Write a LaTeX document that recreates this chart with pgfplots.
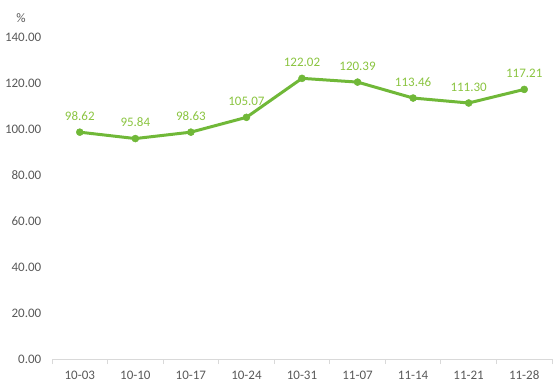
\documentclass[border=0pt]{standalone}
\usepackage{pgfplots}
\pgfplotsset{compat=1.18}
\usepackage{fontspec}
\setmainfont{Carlito}
\definecolor{linegreen}{RGB}{112,184,56}
\definecolor{labgreen}{RGB}{138,196,64}
\definecolor{tickgray}{RGB}{89,89,89}
\definecolor{axgray}{RGB}{217,217,217}
\begin{document}
\begin{tikzpicture}
\useasboundingbox (-52bp,-32bp) rectangle (502bp,359bp);
\begin{axis}[
  at={(0,0)}, anchor=south west,
  scale only axis, width=500bp, height=322bp,
  xmin=-0.5, xmax=8.5, ymin=0, ymax=140,
  axis x line*=bottom, axis y line*=left,
  y axis line style={draw=none},
  x axis line style={draw=axgray, line width=1bp},
  xtick={0,...,8},
  xticklabels={10-03,10-10,10-17,10-24,10-31,11-07,11-14,11-21,11-28},
  minor xtick={-0.5,0.5,...,8.5},
  major x tick style={draw=none},
  minor x tick style={draw=axgray, line width=1bp},
  minor tick length=5bp,
  tick align=outside,
  ytick={0,20,...,140},
  ytick style={draw=none},
  /pgf/number format/fixed,
  /pgf/number format/fixed zerofill,
  /pgf/number format/precision=2,
  /pgf/number format/assume math mode=true,
  tick label style={font=\fontsize{13bp}{15bp}\selectfont, text=tickgray},
  xticklabel style={yshift=-4bp, text height=9bp, text depth=0bp},
  yticklabel style={xshift=-3bp},
  nodes near coords,
  point meta=explicit symbolic,
  every node near coord/.append style={font=\fontsize{13bp}{15bp}\selectfont, text=labgreen, anchor=south, yshift=8bp},
  clip=false,
]
\addplot[color=linegreen, line width=3bp, mark=*, mark size=3.5bp, mark options={solid, fill=linegreen, draw=linegreen, line width=0.5bp}]
coordinates {
(0,98.62) [98.62]
(1,95.84) [95.84]
(2,98.63) [98.63]
(3,105.07) [105.07]
(4,122.02) [122.02]
(5,120.39) [120.39]
(6,113.46) [113.46]
(7,111.30) [111.30]
(8,117.21) [117.21]
};
\end{axis}
\node[font=\fontsize{13bp}{15bp}\selectfont, text=tickgray] at (-31bp,341bp) {\%};
\end{tikzpicture}
\end{document}
